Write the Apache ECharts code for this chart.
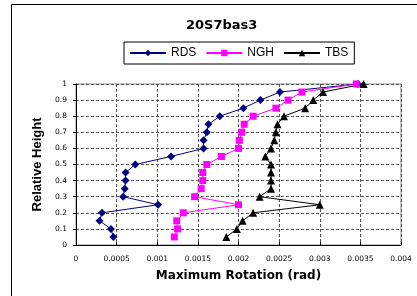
<!DOCTYPE html>
<html>
<head>
<meta charset="utf-8">
<script src="https://cdn.jsdelivr.net/npm/echarts@6/dist/echarts.min.js"></script>
<style>
  html, body { margin: 0; padding: 0; background: #fff; }
  #main { width: 417px; height: 296px; }
</style>
</head>
<body>
<div id="main"></div>
<script>
var chartDom = document.getElementById('main');
var myChart = echarts.init(chartDom);

const heights = [0.05, 0.1, 0.15, 0.2, 0.25, 0.3, 0.35, 0.4, 0.45, 0.5,
                 0.55, 0.6, 0.65, 0.7, 0.75, 0.8, 0.85, 0.9, 0.95, 1.0];

const rdsRot = [0.00046, 0.00043, 0.00029, 0.00032, 0.00101, 0.00058, 0.0006, 0.00061, 0.00061, 0.00073,
                0.00117, 0.00157, 0.00157, 0.00161, 0.00163, 0.00177, 0.00206, 0.00227, 0.00251, 0.00347];
const nghRot = [0.00121, 0.00125, 0.00124, 0.00132, 0.002, 0.00146, 0.00154, 0.00156, 0.00156, 0.00161,
                0.00179, 0.002, 0.00201, 0.00204, 0.00207, 0.00218, 0.00246, 0.00261, 0.00278, 0.00345];
const tbsRot = [0.00185, 0.00198, 0.00205, 0.00218, 0.003, 0.00226, 0.0024, 0.0024, 0.0024, 0.0024,
                0.00233, 0.0024, 0.00244, 0.00246, 0.00248, 0.00256, 0.00282, 0.00292, 0.00304, 0.00354];

const FONT = 'Liberation Sans, Arial, sans-serif';
const WIDE = 'DejaVu Sans, Verdana, sans-serif';

function pairs(xs)
{
  return xs.map((x, i) => [x, heights[i]]);
}

function makeSeries(name, data, color, symbol, size)
{
  return {
    name: name,
    type: 'line',
    data: pairs(data),
    symbol: symbol,
    symbolSize: size,
    color: color,
    lineStyle: { width: 1, color: color },
    itemStyle: { color: color },
    animation: false
  };
}

var option = {
  backgroundColor: '#fff',
  title: {
    text: '20S7bas3',
    left: 181,
    top: 14,
    textStyle: { fontFamily: WIDE, fontSize: 13, fontWeight: 'bold', color: '#000' }
  },
  legend: {
    top: 42,
    left: 124,
    itemWidth: 36,
    itemHeight: 8,
    itemGap: 9,
    padding: [5, 6, 5, 5],
    borderColor: '#000',
    borderWidth: 1,
    borderRadius: 0,
    textStyle: { fontFamily: FONT, fontSize: 12, color: '#000' },
    data: ['RDS', 'NGH', 'TBS']
  },
  grid: {
    left: 76,
    right: 16,
    top: 84,
    bottom: 51,
    containLabel: false
  },
  xAxis: {
    type: 'value',
    min: 0,
    max: 0.004,
    interval: 0.0005,
    name: 'Maximum Rotation (rad)',
    nameLocation: 'middle',
    nameGap: 25,
    nameTextStyle: { fontFamily: WIDE, fontSize: 12, fontWeight: 'bold', color: '#000' },
    axisLine: { lineStyle: { color: '#000', width: 1 } },
    axisTick: { show: true, length: 3, inside: true, lineStyle: { color: '#000' } },
    axisLabel: { fontFamily: WIDE, fontSize: 7.5, color: '#000', margin: 10,
                 formatter: v => String(parseFloat(v.toFixed(4))) },
    splitLine: { show: true, lineStyle: { color: '#555', type: [3, 2], width: 1 } }
  },
  yAxis: {
    type: 'value',
    min: 0,
    max: 1,
    interval: 0.1,
    name: 'Relative Height',
    nameLocation: 'middle',
    nameGap: 32,
    nameTextStyle: { fontFamily: FONT, fontSize: 13, fontWeight: 'bold', color: '#000' },
    axisLine: { show: true, lineStyle: { color: '#000', width: 1 } },
    axisTick: { show: true, length: 3, lineStyle: { color: '#000' } },
    axisLabel: { fontFamily: WIDE, fontSize: 7.5, color: '#000', margin: 9,
                 formatter: v => String(parseFloat(v.toFixed(1))) },
    splitLine: { show: true, lineStyle: { color: '#555', type: [3, 2], width: 1 } }
  },
  graphic: [
    {
      type: 'rect',
      shape: { x: 11.5, y: 4.5, width: 420, height: 300 },
      style: { fill: 'none', stroke: '#000', lineWidth: 1 },
      z: -1
    },
    {
      type: 'rect',
      shape: { x: 76, y: 84, width: 325, height: 161 },
      style: { fill: 'none', stroke: '#888', lineWidth: 1 },
      z: 0
    }
  ],
  series: [
    makeSeries('RDS', rdsRot, '#00007f', 'diamond', 8),
    makeSeries('NGH', nghRot, '#ff00ff', 'rect', 7),
    makeSeries('TBS', tbsRot, '#000000', 'triangle', 8)
  ]
};

myChart.setOption(option);
</script>
</body>
</html>
